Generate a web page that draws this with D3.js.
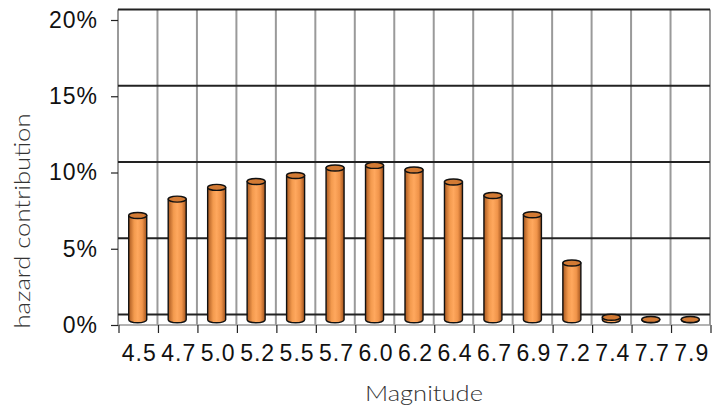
<!DOCTYPE html>
<html>
<head>
<meta charset="utf-8">
<script src="https://cdn.jsdelivr.net/npm/d3@7"></script>
<style>
  body { margin: 0; background: #fff; }
  svg { display: block; }
</style>
</head>
<body>
<div id="chart"></div>
<script>
// magnitude bins and their share of the hazard
var magnitudes = ["4.5","4.7","5.0","5.2","5.5","5.7","6.0","6.2","6.4","6.7","6.9","7.2","7.4","7.7","7.9"]
var contribution = [0.0684,0.0791,0.0868,0.0907,0.0946,0.0995,0.1012,0.0982,0.0903,0.0815,0.0689,0.0372,0.0016,0.0002,0.0002]
var yTicks = [0, 0.05, 0.10, 0.15, 0.20]

var W = 713, H = 412
var left = 118, right = 710, front0 = 325, frontTop = 20
var depth = 10.5   // how far the back wall sits above the front plane

var svg = d3.select("#chart").append("svg")
  .attr("width", W)
  .attr("height", H)

var x = d3.scaleBand()
  .domain(magnitudes)
  .range([left, right])

var y = d3.scaleLinear()
  .domain([0, 0.20])
  .range([front0, frontTop])

var defs = svg.append("defs")
var grad = defs.append("linearGradient").attr("id", "cyl")
  .attr("x1", "0%").attr("x2", "100%").attr("y1", "0%").attr("y2", "0%")
grad.selectAll("stop")
  .data([["0%","#a9581f"],["30%","#f39a4e"],["50%","#ffa85e"],["75%","#f0944a"],["100%","#a0521c"]])
  .enter().append("stop")
  .attr("offset", function(d) { return d[0] })
  .attr("stop-color", function(d) { return d[1] })

// back wall
var bounds = magnitudes.map(function(d) { return x(d) }).concat([right])

svg.append("g").selectAll("line")
  .data(bounds)
  .enter().append("line")
  .attr("x1", function(d) { return d }).attr("x2", function(d) { return d })
  .attr("y1", y(0.20) - depth).attr("y2", front0)
  .attr("stroke", "#9a9a9a")
  .attr("stroke-width", 2)

// floor front edge
svg.append("line")
  .attr("x1", left).attr("x2", right)
  .attr("y1", front0).attr("y2", front0)
  .attr("stroke", "#9a9a9a")
  .attr("stroke-width", 1.5)

svg.append("g").selectAll("line")
  .data(yTicks)
  .enter().append("line")
  .attr("x1", left).attr("x2", right)
  .attr("y1", function(d) { return y(d) - depth })
  .attr("y2", function(d) { return y(d) - depth })
  .attr("stroke", "#222")
  .attr("stroke-width", 2)

// y axis on the front plane
var yAxis = svg.append("g")
  .attr("transform", "translate(" + left + ",0)")
  .call(d3.axisLeft(y).tickValues(yTicks).tickFormat(d3.format(".0%")).tickSize(7).tickPadding(13))
yAxis.select(".domain").remove()
yAxis.selectAll("line").attr("stroke", "#222").attr("stroke-width", 1.2)
yAxis.selectAll("text")
  .attr("font-family", "'Liberation Sans', Arial, sans-serif")
  .attr("font-size", 23)
  .attr("letter-spacing", 1)
  .attr("fill", "#111")

// x ticks at category boundaries
svg.append("g").selectAll("line")
  .data(bounds)
  .enter().append("line")
  .attr("x1", function(d) { return d + 1 }).attr("x2", function(d) { return d + 1 })
  .attr("y1", front0).attr("y2", front0 + 8)
  .attr("stroke", "#222")
  .attr("stroke-width", 1.2)

var xAxis = svg.append("g")
  .attr("transform", "translate(1," + front0 + ")")
  .call(d3.axisBottom(x).tickSize(0).tickPadding(20))
xAxis.select(".domain").remove()
xAxis.selectAll("text")
  .attr("font-family", "'Liberation Sans', Arial, sans-serif")
  .attr("font-size", 23)
  .attr("letter-spacing", 1)
  .attr("dx", 0.5)
  .attr("fill", "#111")

// cylinders
var rx = 9, ry = 3, mid = depth / 2
var bars = svg.append("g").selectAll("g")
  .data(magnitudes.map(function(m, i) { return { m: m, v: contribution[i] } }))
  .enter().append("g")

bars.append("path")
  .attr("d", function(d) {
    var cx = x(d.m) + x.bandwidth() / 2
    var yb = y(0) - mid, yt = y(d.v) - mid
    return "M" + (cx - rx) + "," + yt + "L" + (cx - rx) + "," + yb +
      "A" + rx + "," + ry + " 0 0 0 " + (cx + rx) + "," + yb +
      "L" + (cx + rx) + "," + yt + "Z"
  })
  .attr("fill", "url(#cyl)")
  .attr("stroke", "#111")
  .attr("stroke-width", 1.4)

bars.append("ellipse")
  .attr("cx", function(d) { return x(d.m) + x.bandwidth() / 2 })
  .attr("cy", function(d) { return y(d.v) - mid })
  .attr("rx", rx).attr("ry", ry)
  .attr("fill", "#d27a34")
  .attr("stroke", "#111")
  .attr("stroke-width", 1.4)

// axis titles
svg.append("text")
  .attr("transform", "translate(30,221) rotate(-90)")
  .attr("text-anchor", "middle")
  .attr("textLength", 215)
  .attr("lengthAdjust", "spacingAndGlyphs")
  .attr("font-family", "Lato, 'Open Sans', sans-serif")
  .attr("font-weight", 300)
  .attr("font-size", 21)
  .attr("fill", "#333")
  .text("hazard contribution")

svg.append("text")
  .attr("x", 424)
  .attr("y", 401)
  .attr("text-anchor", "middle")
  .attr("textLength", 118)
  .attr("lengthAdjust", "spacingAndGlyphs")
  .attr("font-family", "Lato, 'Open Sans', sans-serif")
  .attr("font-weight", 300)
  .attr("font-size", 21)
  .attr("fill", "#333")
  .text("Magnitude")
</script>
</body>
</html>
